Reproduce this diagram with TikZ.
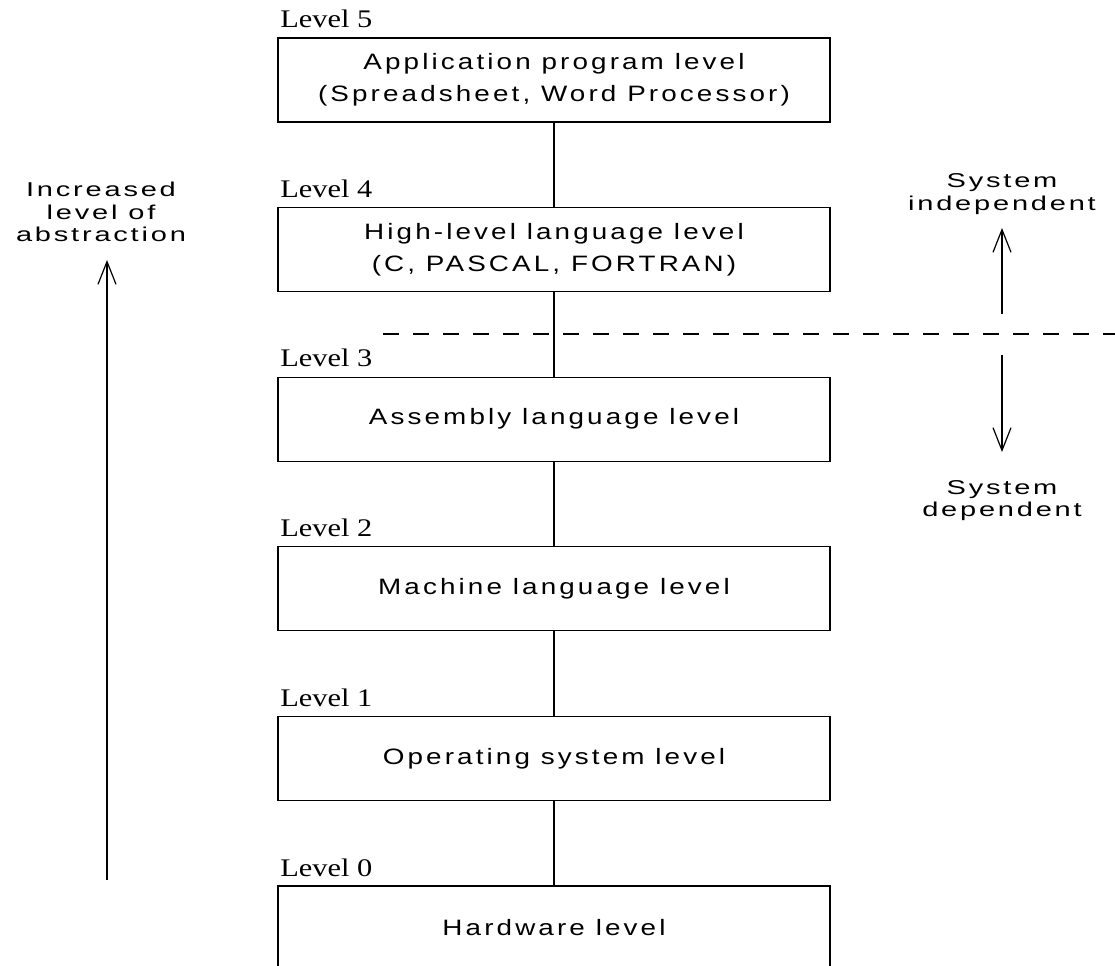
\documentclass[tikz,border=0pt]{standalone}
\usepackage{fontspec}
\usetikzlibrary{arrows.meta}
\newfontfamily\boxfont[LetterSpace=14,FakeStretch=1.25]{Liberation Sans}
\newfontfamily\sidefont[LetterSpace=14,FakeStretch=1.45]{Liberation Sans}
\newfontfamily\levfont[FakeStretch=1.2]{Liberation Serif}
\tikzset{
	lvbox/.style={draw, line width=0.9pt, minimum width=414pt, minimum height=63pt, inner sep=0pt, align=center, font=\boxfont\fontsize{16.7pt}{24pt}\selectfont},
	lvlabel/.style={anchor=base west, inner sep=0pt, font=\levfont\fontsize{19pt}{22pt}\selectfont},
	sidetext/.style={inner sep=0pt, align=center, font=\sidefont\fontsize{15pt}{17pt}\selectfont},
	barb/.style={line width=0.9pt, -{Straight Barb[length=17pt,width=13.5pt]}}
}
\begin{document}
\begin{tikzpicture}[x=0.75pt,y=0.75pt,yscale=-1,xscale=1]
		\useasboundingbox (0,0) rectangle (1115,966);
		
		% Level boxes
		\node[lvbox] (L5) at (554,80) {Application program level\\(Spreadsheet, Word Processor)};
		\node[lvbox] (L4) at (554,249.6) {High-level language level\\(C, PASCAL, FORTRAN)};
		\node[lvbox] (L3) at (554,419.2) {Assembly language level};
		\node[lvbox] (L2) at (554,588.8) {Machine language level};
		\node[lvbox] (L1) at (554,758.4) {Operating system level};
		\node[lvbox] (L0) at (554,928) {Hardware level};
		
		% Text Node
		\node[lvlabel] (lab5) at (280,28) {Level 5};
		% Text Node
		\node[lvlabel] (lab4) at (280,198) {Level 4};
		% Text Node
		\node[lvlabel] (lab3) at (280,367) {Level 3};
		% Text Node
		\node[lvlabel] (lab2) at (280,537) {Level 2};
		% Text Node
		\node[lvlabel] (lab1) at (280,706) {Level 1};
		% Text Node
		\node[lvlabel] (lab0) at (280,876) {Level 0};
		
		%Straight Lines
		\draw[line width=0.9pt] (L5) -- (L4);
		\draw[line width=0.9pt] (L4) -- (L3);
		\draw[line width=0.9pt] (L3) -- (L2);
		\draw[line width=0.9pt] (L2) -- (L1);
		\draw[line width=0.9pt] (L1) -- (L0);
		
		%Dashed Line
		\coordinate (dashL) at (383,334);
		\coordinate (dashR) at (1115,334);
		\draw[line width=0.9pt, dash pattern=on 12pt off 10.5pt] (dashL) -- (dashR);
		
		% Text Node
		\node[sidetext] (abstr) at (101,212) {Increased\\level of\\abstraction};
		% Text Node
		\node[sidetext] (indep) at (1002,194) {System\\independent};
		% Text Node
		\node[sidetext] (dep) at (1002,500.5) {System\\dependent};
		
		%Arrows
		\coordinate (absBot) at (107,880);
		\coordinate (absTop) at (107,260);
		\draw[barb] (absBot) -- (absTop);
		\coordinate (upBot) at (1002,314);
		\coordinate (upTop) at (1002,228);
		\draw[barb] (upBot) -- (upTop);
		\coordinate (dnTop) at (1002,355);
		\coordinate (dnBot) at (1002,452);
		\draw[barb] (dnTop) -- (dnBot);
		
	\end{tikzpicture}
\end{document}
